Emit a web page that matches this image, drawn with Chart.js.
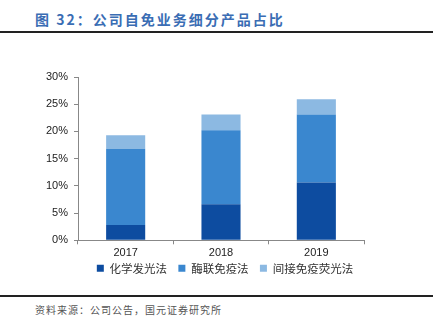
<!DOCTYPE html>
<html lang="zh">
<head>
<meta charset="UTF-8">
<script src="https://cdn.jsdelivr.net/npm/chart.js"></script>
<title>公司自免业务细分产品占比</title>
<style>
    body {
        margin: 0;
        width: 441px;
        height: 330px;
        background: #fff;
        position: relative;
        overflow: hidden;
        font-family: "Noto Sans CJK SC", sans-serif;
    }
    /* titre du graphique */
    .title {
        position: absolute;
        left: 35px;
        top: 9px;
        font-size: 14px;
        font-weight: bold;
        color: #3a6db4;
        letter-spacing: 2px;
    }
    .rule {
        position: absolute;
        left: 0;
        width: 433px;
        height: 2px;
        background: #222;
    }
    .source {
        position: absolute;
        left: 35px;
        top: 302px;
        font-size: 10px;
        color: #555;
        letter-spacing: 1px;
    }
    #wrap {
        position: absolute;
        left: 0;
        top: 40px;
        width: 441px;
        height: 244px;
    }
</style>
</head>
<body>
<div class="title">图 32：公司自免业务细分产品占比</div>
<div class="rule" style="top:31px"></div>
<div id="wrap"><canvas id="myChart"></canvas></div>
<div class="rule" style="top:295px"></div>
<div class="source">资料来源：公司公告，国元证券研究所</div>

<script>
const years = ['2017', '2018', '2019'];
const chemiluminescence = [2.8, 6.6, 10.6];   // 化学发光法
const elisa = [14.0, 13.6, 12.5];             // 酶联免疫法
const ifa = [2.5, 2.9, 2.8];                  // 间接免疫荧光法
const yTicks = [0, 5, 10, 15, 20, 25, 30];

const ctx = document.getElementById('myChart').getContext('2d');
new Chart(ctx, {
    type: 'bar',
    data: {
        labels: years,
        datasets: [
            { label: '化学发光法', data: chemiluminescence, backgroundColor: '#0d4ca0' },
            { label: '酶联免疫法', data: elisa, backgroundColor: '#3a87cf' },
            { label: '间接免疫荧光法', data: ifa, backgroundColor: '#8cb9e2' }
        ]
    },
    options: {
        responsive: true,
        maintainAspectRatio: false,
        animation: false,
        barPercentage: 0.41,
        categoryPercentage: 1,
        layout: { padding: { left: 9, right: 0, top: 37, bottom: 0 } },
        plugins: {
            tooltip: { enabled: false },
            legend: {
                position: 'bottom',
                labels: {
                    boxWidth: 7,
                    boxHeight: 7,
                    padding: 1,
                    color: '#333',
                    font: { family: '"Noto Sans CJK SC"', size: 11.5 },
                    // garder l'espace entre les items malgré le petit padding
                    generateLabels: chart => {
                        const items = Chart.defaults.plugins.legend.labels.generateLabels(chart);
                        return items.map((l, i) => ({ ...l, text: i < items.length - 1 ? l.text + '    ' : l.text }));
                    }
                }
            }
        },
        scales: {
            x: {
                stacked: true,
                grid: { drawOnChartArea: false, color: '#888', tickLength: 4 },
                border: { color: '#888' },
                ticks: { color: '#222', font: { family: 'Liberation Sans', size: 11 }, padding: 2 }
            },
            y: {
                stacked: true,
                min: 0,
                max: 30,
                afterFit: s => { s.width = 69; },
                grid: { drawOnChartArea: false, color: '#888', tickLength: 4 },
                border: { color: '#888' },
                afterBuildTicks: axis => { axis.ticks = yTicks.map(v => ({ value: v })); },
                ticks: {
                    color: '#222',
                    font: { family: 'Liberation Sans', size: 11 },
                    padding: 6,
                    callback: v => v + '%'
                }
            },
            // axe vide à droite, juste pour réserver la marge
            yRight: {
                type: 'linear',
                position: 'right',
                afterFit: s => { s.width = 77; },
                grid: { display: false },
                border: { display: false },
                ticks: { display: false }
            }
        }
    }
});
</script>
</body>
</html>
